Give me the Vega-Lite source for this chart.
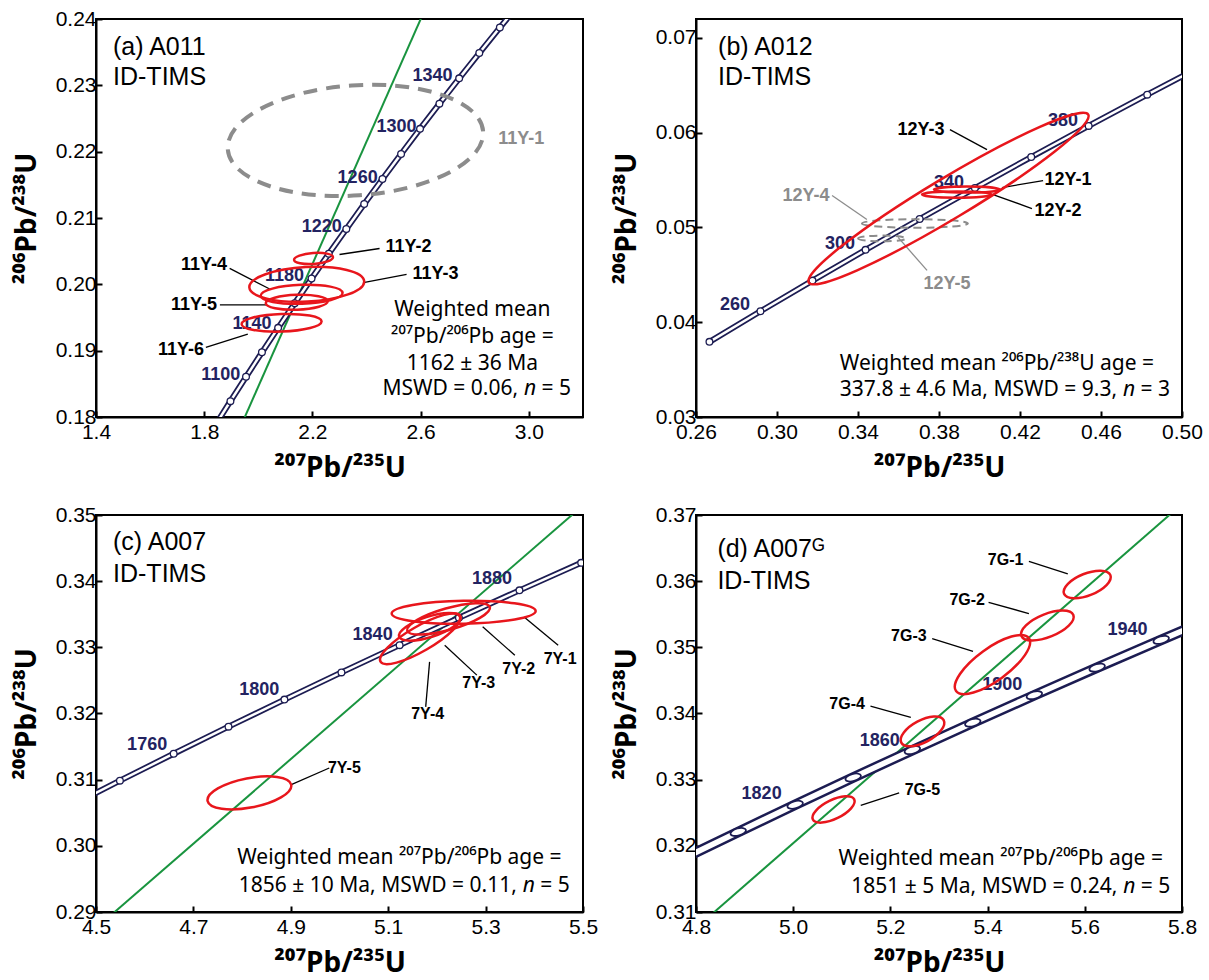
{
"$schema": "https://vega.github.io/schema/vega-lite/v6.json",
"padding": {"left": 12, "top": 7, "right": 5, "bottom": 5},
"config": {
 "view": {"stroke": "black", "strokeWidth": 2},
 "axis": {"domainColor": "black", "domainWidth": 2, "tickColor": "black", "tickWidth": 2, "tickSize": -6, "labelFont": "Liberation Sans", "labelFontSize": 21, "labelColor": "black", "titleFont": "Noto Sans", "titleFontSize": 28, "titleFontWeight": "bold", "titleColor": "black", "grid": false, "labelPadding": 6, "labelFlush": false, "labelOverlap": false},
 "axisX": {"minExtent": 27, "maxExtent": 27, "titlePadding": 10, "labelPadding": 10},
 "axisY": {"minExtent": 50, "maxExtent": 50, "titlePadding": 5},
 "text": {"font": "Liberation Sans"}
},
"datasets": {
 "conc_a": [{"age":1060,"x":1.8404,"y":0.17872},{"age":1080,"x":1.8969,"y":0.18239},{"age":1100,"x":1.9545,"y":0.18606},{"age":1120,"x":2.0133,"y":0.18975},{"age":1140,"x":2.0732,"y":0.19344},{"age":1160,"x":2.1344,"y":0.19715},{"age":1180,"x":2.1967,"y":0.20087},{"age":1200,"x":2.2603,"y":0.2046},{"age":1220,"x":2.3252,"y":0.20835},{"age":1240,"x":2.3913,"y":0.2121},{"age":1260,"x":2.4588,"y":0.21587},{"age":1280,"x":2.5276,"y":0.21965},{"age":1300,"x":2.5977,"y":0.22344},{"age":1320,"x":2.6693,"y":0.22724},{"age":1340,"x":2.7423,"y":0.23105},{"age":1360,"x":2.8167,"y":0.23487},{"age":1380,"x":2.8927,"y":0.23871},{"age":1400,"x":2.9701,"y":0.24256}],
 "conc_b": [{"age":240,"x":0.26664,"y":0.037932},{"age":260,"x":0.29183,"y":0.041157},{"age":280,"x":0.31752,"y":0.044392},{"age":300,"x":0.34373,"y":0.047638},{"age":320,"x":0.37046,"y":0.050893},{"age":340,"x":0.39773,"y":0.054158},{"age":360,"x":0.42554,"y":0.057434},{"age":380,"x":0.4539,"y":0.06072},{"age":400,"x":0.48283,"y":0.064016},{"age":420,"x":0.51233,"y":0.067322}],
 "conc_c": [{"age":1720,"x":4.4409,"y":0.3058},{"age":1740,"x":4.5491,"y":0.30985},{"age":1760,"x":4.6595,"y":0.31392},{"age":1780,"x":4.7721,"y":0.31801},{"age":1800,"x":4.8869,"y":0.3221},{"age":1820,"x":5.004,"y":0.32621},{"age":1840,"x":5.1234,"y":0.33033},{"age":1860,"x":5.2452,"y":0.33446},{"age":1880,"x":5.3695,"y":0.33861},{"age":1900,"x":5.4962,"y":0.34277},{"age":1920,"x":5.6254,"y":0.34694}],
 "conc_d": [{"age":1780,"x":4.7721,"y":0.31801},{"age":1800,"x":4.8869,"y":0.3221},{"age":1820,"x":5.004,"y":0.32621},{"age":1840,"x":5.1234,"y":0.33033},{"age":1860,"x":5.2452,"y":0.33446},{"age":1880,"x":5.3695,"y":0.33861},{"age":1900,"x":5.4962,"y":0.34277},{"age":1920,"x":5.6254,"y":0.34694},{"age":1940,"x":5.7572,"y":0.35113},{"age":1960,"x":5.8916,"y":0.35533}],
 "green_a": [{"x":1.9,"y":0.17537},{"x":2.7,"y":0.24921}],
 "green_c": [{"x":4.4,"y":0.28116},{"x":5.6,"y":0.35784}],
 "green_d": [{"x":4.8,"y":0.30758},{"x":5.9,"y":0.37807}],
 "ell_a": [{"id":"11Y-2","x":2.204,"y":0.2039,"major":19.5,"tilt":4},{"id":"11Y-3","x":2.179,"y":0.2,"major":57.5,"tilt":3},{"id":"11Y-4","x":2.16,"y":0.1985,"major":41,"tilt":2},{"id":"11Y-5","x":2.142,"y":0.1973,"major":31,"tilt":2},{"id":"11Y-6","x":2.086,"y":0.1942,"major":40,"tilt":2}],
 "ellg_a": [{"id":"11Y-1","x":2.359,"y":0.2217,"major":128,"tilt":4}],
 "ell_b": [{"id":"12Y-3","x":0.3847,"y":0.05305,"major":163,"tilt":31},{"id":"12Y-1","x":0.3938,"y":0.054,"major":33,"tilt":0},{"id":"12Y-2","x":0.3889,"y":0.05347,"major":35,"tilt":0}],
 "ellg_b": [{"id":"12Y-4","x":0.3681,"y":0.05042,"major":53,"tilt":0},{"id":"12Y-5","x":0.3519,"y":0.04884,"major":24,"tilt":0}],
 "ell_c": [{"id":"7Y-1","x":5.255,"y":0.3353,"major":72,"tilt":1},{"id":"7Y-2","x":5.224,"y":0.3343,"major":43,"tilt":16},{"id":"7Y-3","x":5.185,"y":0.3331,"major":32,"tilt":18},{"id":"7Y-4","x":5.166,"y":0.3313,"major":46,"tilt":30},{"id":"7Y-5","x":4.815,"y":0.308,"major":42.6,"tilt":11}],
 "ell_d": [{"id":"7G-1","x":5.605,"y":0.3595,"major":25,"tilt":22},{"id":"7G-2","x":5.523,"y":0.3533,"major":28,"tilt":22},{"id":"7G-3","x":5.41,"y":0.3474,"major":45,"tilt":36},{"id":"7G-4","x":5.266,"y":0.3373,"major":24,"tilt":28},{"id":"7G-5","x":5.083,"y":0.3255,"major":23,"tilt":26}],
 "lab_a": [{"t":"11Y-2","x":2.555,"y":0.2056},{"t":"11Y-3","x":2.655,"y":0.2015},{"t":"11Y-4","x":1.799,"y":0.2029},{"t":"11Y-5","x":1.762,"y":0.1969},{"t":"11Y-6","x":1.714,"y":0.1901}],
 "glab_a": [{"t":"11Y-1","x":2.972,"y":0.2219}],
 "lead_a": [{"x":2.3,"y":0.2045,"x2":2.448,"y2":0.2054},{"x":2.393,"y":0.2003,"x2":2.548,"y2":0.2015},{"x":1.894,"y":0.2024,"x2":2.042,"y2":0.1993},{"x":1.858,"y":0.1969,"x2":2.031,"y2":0.1969},{"x":1.806,"y":0.1905,"x2":1.961,"y2":0.1925}],
 "age_a": [{"t":"1100","x":1.861,"y":0.1863},{"t":"1140","x":1.977,"y":0.194},{"t":"1180","x":2.097,"y":0.2013},{"t":"1220","x":2.234,"y":0.2086},{"t":"1260","x":2.367,"y":0.2161},{"t":"1300","x":2.511,"y":0.2237},{"t":"1340","x":2.644,"y":0.2314}],
 "title_a": [{"t":"(a) A011","x":1.463,"y":0.2358},{"t":"ID-TIMS","x":1.463,"y":0.2313}],
 "notes_a": [{"t":"Weighted mean","x":2.791,"y":0.1961},{"t":"²⁰⁷Pb/²⁰⁶Pb age =","x":2.791,"y":0.192},{"t":"1162 ± 36 Ma","x":2.791,"y":0.188}],
 "tail_a": [{"pre":"MSWD = 0.06,","post":"= 5","x":3.156,"y":0.1842}],
 "lab_b": [{"t":"12Y-3","x":0.3711,"y":0.06032},{"t":"12Y-1","x":0.4437,"y":0.05505},{"t":"12Y-2","x":0.4388,"y":0.05179}],
 "glab_b": [{"t":"12Y-4","x":0.3143,"y":0.05337},{"t":"12Y-5","x":0.384,"y":0.044}],
 "lead_b": [{"x":0.3854,"y":0.06032,"x2":0.4037,"y2":0.05821},{"x":0.4111,"y":0.05421,"x2":0.4314,"y2":0.05495},{"x":0.4067,"y":0.05347,"x2":0.4259,"y2":0.052}],
 "gleader_b": [{"x":0.3272,"y":0.05337,"x2":0.3444,"y2":0.05084},{"x":0.3741,"y":0.04547,"x2":0.3598,"y2":0.04895}],
 "age_b": [{"t":"260","x":0.2793,"y":0.04179},{"t":"300","x":0.3311,"y":0.04821},{"t":"340","x":0.3849,"y":0.05474},{"t":"380","x":0.4412,"y":0.06126}],
 "title_b": [{"t":"(b) A012","x":0.2709,"y":0.06905},{"t":"ID-TIMS","x":0.2709,"y":0.06589}],
 "notes_b": [{"t":"Weighted mean ²⁰⁶Pb/²³⁸U age =","x":0.4086,"y":0.03558}],
 "tail_b": [{"pre":"337.8 ± 4.6 Ma, MSWD = 9.3,","post":"= 3","x":0.4941,"y":0.03284}],
 "lab_c": [{"t":"7Y-1","x":5.453,"y":0.3283},{"t":"7Y-2","x":5.368,"y":0.3268},{"t":"7Y-3","x":5.286,"y":0.3246},{"t":"7Y-4","x":5.181,"y":0.32},{"t":"7Y-5","x":5.01,"y":0.3118}],
 "lead_c": [{"x":5.379,"y":0.3346,"x2":5.449,"y2":0.3303},{"x":5.294,"y":0.3331,"x2":5.36,"y2":0.3288},{"x":5.216,"y":0.3303,"x2":5.282,"y2":0.3258},{"x":5.185,"y":0.3278,"x2":5.177,"y2":0.321},{"x":4.901,"y":0.30924,"x2":4.979,"y2":0.31176}],
 "age_c": [{"t":"1760","x":4.605,"y":0.3152},{"t":"1800","x":4.835,"y":0.3235},{"t":"1840","x":5.068,"y":0.3318},{"t":"1880","x":5.313,"y":0.3404}],
 "title_c": [{"t":"(c) A007","x":4.535,"y":0.3459},{"t":"ID-TIMS","x":4.535,"y":0.3411}],
 "notes_c": [{"t":"Weighted mean ²⁰⁷Pb/²⁰⁶Pb age =","x":5.123,"y":0.2982}],
 "tail_c": [{"pre":"1856 ± 10 Ma, MSWD = 0.11,","post":"= 5","x":5.473,"y":0.2939}],
 "lab_d": [{"t":"7G-1","x":5.437,"y":0.3632},{"t":"7G-2","x":5.358,"y":0.3571},{"t":"7G-3","x":5.238,"y":0.3517},{"t":"7G-4","x":5.111,"y":0.3414},{"t":"7G-5","x":5.266,"y":0.3285}],
 "lead_d": [{"x":5.485,"y":0.363,"x2":5.565,"y2":0.3611},{"x":5.402,"y":0.3568,"x2":5.485,"y2":0.3551},{"x":5.286,"y":0.3513,"x2":5.37,"y2":0.3494},{"x":5.159,"y":0.3411,"x2":5.242,"y2":0.3394},{"x":5.218,"y":0.328,"x2":5.139,"y2":0.3261}],
 "age_d": [{"t":"1820","x":4.935,"y":0.3278},{"t":"1860","x":5.178,"y":0.3359},{"t":"1900","x":5.43,"y":0.3443},{"t":"1940","x":5.688,"y":0.3526}],
 "title_d": [{"t":"(d) A007ᴳ","x":4.844,"y":0.3648},{"t":"ID-TIMS","x":4.844,"y":0.36}],
 "notes_d": [{"t":"Weighted mean ²⁰⁷Pb/²⁰⁶Pb age =","x":5.427,"y":0.318}],
 "tail_d": [{"pre":"1851 ± 5 Ma, MSWD = 0.24,","post":"= 5","x":5.776,"y":0.3138}]
},
"columns": 2,
"spacing": {"row": 20, "column": 13},
"concat": [
 {"width": 487, "height": 398, "layer": [
  {"data": {"name": "green_a"}, "mark": {"type": "line", "color": "#19943f", "strokeWidth": 2, "clip": true},
   "encoding": {"x": {"field": "x", "type": "quantitative", "scale": {"domain": [1.4, 3.2], "nice": false, "zero": false}, "axis": {"values": [1.4, 1.8, 2.2, 2.6, 3.0], "format": ".1f", "title": "²⁰⁷Pb/²³⁵U"}},
    "y": {"field": "y", "type": "quantitative", "scale": {"domain": [0.18, 0.24], "nice": false, "zero": false}, "axis": {"values": [0.18, 0.19, 0.2, 0.21, 0.22, 0.23, 0.24], "format": ".2f", "title": "²⁰⁶Pb/²³⁸U"}}}},
  {"data": {"name": "conc_a"}, "mark": {"type": "line", "color": "#1c1c52", "strokeWidth": 6, "clip": true}, "encoding": {"x": {"field": "x", "type": "quantitative"}, "y": {"field": "y", "type": "quantitative"}, "order": {"field": "age"}}},
  {"data": {"name": "conc_a"}, "mark": {"type": "line", "color": "white", "strokeWidth": 2.5, "clip": true}, "encoding": {"x": {"field": "x", "type": "quantitative"}, "y": {"field": "y", "type": "quantitative"}, "order": {"field": "age"}}},
  {"data": {"name": "conc_a"}, "mark": {"type": "point", "shape": "circle", "filled": true, "fill": "white", "stroke": "#1c1c52", "strokeWidth": 1.3, "size": 45, "opacity": 1, "clip": true}, "encoding": {"x": {"field": "x", "type": "quantitative"}, "y": {"field": "y", "type": "quantitative"}}},
  {"data": {"name": "age_a"}, "mark": {"type": "text", "fontWeight": "bold", "fontSize": 18, "color": "#232361"}, "encoding": {"x": {"field": "x", "type": "quantitative"}, "y": {"field": "y", "type": "quantitative"}, "text": {"field": "t"}}},
  {"data": {"name": "lead_a"}, "mark": {"type": "rule", "color": "black", "strokeWidth": 1.3}, "encoding": {"x": {"field": "x", "type": "quantitative"}, "y": {"field": "y", "type": "quantitative"}, "x2": {"field": "x2"}, "y2": {"field": "y2"}}},
  {"data": {"name": "lab_a"}, "mark": {"type": "text", "fontWeight": "bold", "fontSize": 18, "color": "black"}, "encoding": {"x": {"field": "x", "type": "quantitative"}, "y": {"field": "y", "type": "quantitative"}, "text": {"field": "t"}}},
  {"data": {"name": "glab_a"}, "mark": {"type": "text", "fontWeight": "bold", "fontSize": 18, "color": "#8c8c8c"}, "encoding": {"x": {"field": "x", "type": "quantitative"}, "y": {"field": "y", "type": "quantitative"}, "text": {"field": "t"}}},
  {"data": {"name": "ellg_a"}, "mark": {"type": "point", "filled": false, "stroke": "#8c8c8c", "strokeWidth": 4, "strokeDash": [14, 9], "opacity": 1, "clip": true},
   "encoding": {"x": {"field": "x", "type": "quantitative"}, "y": {"field": "y", "type": "quantitative"},
    "shape": {"field": "id", "type": "nominal", "legend": null, "scale": {"domain": ["11Y-1","11Y-2","11Y-3","11Y-4","11Y-5","11Y-6","12Y-1","12Y-2","12Y-3","12Y-4","12Y-5","7Y-1","7Y-2","7Y-3","7Y-4","7Y-5","7G-1","7G-2","7G-3","7G-4","7G-5"], "range": ["M-1,0A1,0.43,0,1,0,1,0A1,0.43,0,1,0,-1,0Z","M-1,0A1,0.28,0,1,0,1,0A1,0.28,0,1,0,-1,0Z","M-1,0A1,0.3,0,1,0,1,0A1,0.3,0,1,0,-1,0Z","M-1,0A1,0.23,0,1,0,1,0A1,0.23,0,1,0,-1,0Z","M-1,0A1,0.24,0,1,0,1,0A1,0.24,0,1,0,-1,0Z","M-1,0A1,0.22,0,1,0,1,0A1,0.22,0,1,0,-1,0Z","M-1,0A1,0.09,0,1,0,1,0A1,0.09,0,1,0,-1,0Z","M-1,0A1,0.091,0,1,0,1,0A1,0.091,0,1,0,-1,0Z","M-1,0A1,0.125,0,1,0,1,0A1,0.125,0,1,0,-1,0Z","M-1,0A1,0.08,0,1,0,1,0A1,0.08,0,1,0,-1,0Z","M-1,0A1,0.12,0,1,0,1,0A1,0.12,0,1,0,-1,0Z","M-1,0A1,0.16,0,1,0,1,0A1,0.16,0,1,0,-1,0Z","M-1,0A1,0.25,0,1,0,1,0A1,0.25,0,1,0,-1,0Z","M-1,0A1,0.32,0,1,0,1,0A1,0.32,0,1,0,-1,0Z","M-1,0A1,0.27,0,1,0,1,0A1,0.27,0,1,0,-1,0Z","M-1,0A1,0.345,0,1,0,1,0A1,0.345,0,1,0,-1,0Z","M-1,0A1,0.44,0,1,0,1,0A1,0.44,0,1,0,-1,0Z","M-1,0A1,0.41,0,1,0,1,0A1,0.41,0,1,0,-1,0Z","M-1,0A1,0.36,0,1,0,1,0A1,0.36,0,1,0,-1,0Z","M-1,0A1,0.46,0,1,0,1,0A1,0.46,0,1,0,-1,0Z","M-1,0A1,0.411,0,1,0,1,0A1,0.411,0,1,0,-1,0Z"]}},
    "size": {"field": "major", "type": "quantitative", "legend": null, "scale": {"type": "pow", "exponent": 2, "domain": [0, 200], "range": [0, 160000]}},
    "angle": {"field": "tilt", "type": "quantitative", "legend": null, "scale": {"domain": [0, 90], "range": [0, -90]}}}},
  {"data": {"name": "ell_a"}, "mark": {"type": "point", "filled": false, "stroke": "#e8161c", "strokeWidth": 2.5, "opacity": 1, "clip": true},
   "encoding": {"x": {"field": "x", "type": "quantitative"}, "y": {"field": "y", "type": "quantitative"},
    "shape": {"field": "id", "type": "nominal", "legend": null},
    "size": {"field": "major", "type": "quantitative", "legend": null},
    "angle": {"field": "tilt", "type": "quantitative", "legend": null}}},
  {"data": {"name": "title_a"}, "mark": {"type": "text", "fontSize": 25, "align": "left", "color": "black"}, "encoding": {"x": {"field": "x", "type": "quantitative"}, "y": {"field": "y", "type": "quantitative"}, "text": {"field": "t"}}},
  {"data": {"name": "notes_a"}, "mark": {"type": "text", "font": "Noto Sans", "fontSize": 21, "align": "center", "color": "black"}, "encoding": {"x": {"field": "x", "type": "quantitative"}, "y": {"field": "y", "type": "quantitative"}, "text": {"field": "t"}}},
  {"data": {"name": "tail_a"}, "mark": {"type": "text", "font": "Noto Sans", "fontSize": 21, "align": "right", "color": "black"}, "encoding": {"x": {"field": "x", "type": "quantitative"}, "y": {"field": "y", "type": "quantitative"}, "text": {"field": "post"}}},
  {"data": {"name": "tail_a"}, "mark": {"type": "text", "font": "Noto Sans", "fontSize": 21, "align": "right", "fontStyle": "italic", "dx": -35, "color": "black"}, "encoding": {"x": {"field": "x", "type": "quantitative"}, "y": {"field": "y", "type": "quantitative"}, "text": {"value": "n"}}},
  {"data": {"name": "tail_a"}, "mark": {"type": "text", "font": "Noto Sans", "fontSize": 21, "align": "right", "dx": -53, "color": "black"}, "encoding": {"x": {"field": "x", "type": "quantitative"}, "y": {"field": "y", "type": "quantitative"}, "text": {"field": "pre"}}}
 ]},
 {"width": 486, "height": 398, "layer": [
  {"data": {"name": "conc_b"}, "mark": {"type": "line", "color": "#1c1c52", "strokeWidth": 6, "clip": true},
   "encoding": {"x": {"field": "x", "type": "quantitative", "scale": {"domain": [0.26, 0.5], "nice": false, "zero": false}, "axis": {"values": [0.26, 0.3, 0.34, 0.38, 0.42, 0.46, 0.5], "format": ".2f", "title": "²⁰⁷Pb/²³⁵U"}},
    "y": {"field": "y", "type": "quantitative", "scale": {"domain": [0.03, 0.072], "nice": false, "zero": false}, "axis": {"values": [0.03, 0.04, 0.05, 0.06, 0.07], "format": ".2f", "title": "²⁰⁶Pb/²³⁸U"}}, "order": {"field": "age"}}},
  {"data": {"name": "conc_b"}, "mark": {"type": "line", "color": "white", "strokeWidth": 2.5, "clip": true}, "encoding": {"x": {"field": "x", "type": "quantitative"}, "y": {"field": "y", "type": "quantitative"}, "order": {"field": "age"}}},
  {"data": {"name": "conc_b"}, "mark": {"type": "point", "shape": "circle", "filled": true, "fill": "white", "stroke": "#1c1c52", "strokeWidth": 1.3, "size": 45, "opacity": 1, "clip": true}, "encoding": {"x": {"field": "x", "type": "quantitative"}, "y": {"field": "y", "type": "quantitative"}}},
  {"data": {"name": "age_b"}, "mark": {"type": "text", "fontWeight": "bold", "fontSize": 18, "color": "#232361"}, "encoding": {"x": {"field": "x", "type": "quantitative"}, "y": {"field": "y", "type": "quantitative"}, "text": {"field": "t"}}},
  {"data": {"name": "lead_b"}, "mark": {"type": "rule", "color": "black", "strokeWidth": 1.3}, "encoding": {"x": {"field": "x", "type": "quantitative"}, "y": {"field": "y", "type": "quantitative"}, "x2": {"field": "x2"}, "y2": {"field": "y2"}}},
  {"data": {"name": "gleader_b"}, "mark": {"type": "rule", "color": "#8c8c8c", "strokeWidth": 1.3}, "encoding": {"x": {"field": "x", "type": "quantitative"}, "y": {"field": "y", "type": "quantitative"}, "x2": {"field": "x2"}, "y2": {"field": "y2"}}},
  {"data": {"name": "lab_b"}, "mark": {"type": "text", "fontWeight": "bold", "fontSize": 18, "color": "black"}, "encoding": {"x": {"field": "x", "type": "quantitative"}, "y": {"field": "y", "type": "quantitative"}, "text": {"field": "t"}}},
  {"data": {"name": "glab_b"}, "mark": {"type": "text", "fontWeight": "bold", "fontSize": 18, "color": "#8c8c8c"}, "encoding": {"x": {"field": "x", "type": "quantitative"}, "y": {"field": "y", "type": "quantitative"}, "text": {"field": "t"}}},
  {"data": {"name": "ellg_b"}, "mark": {"type": "point", "filled": false, "stroke": "#8c8c8c", "strokeWidth": 2, "strokeDash": [8, 5], "opacity": 1, "clip": true},
   "encoding": {"x": {"field": "x", "type": "quantitative"}, "y": {"field": "y", "type": "quantitative"}, "shape": {"field": "id", "type": "nominal", "legend": null}, "size": {"field": "major", "type": "quantitative", "legend": null}, "angle": {"field": "tilt", "type": "quantitative", "legend": null}}},
  {"data": {"name": "ell_b"}, "mark": {"type": "point", "filled": false, "stroke": "#e8161c", "strokeWidth": 2.5, "opacity": 1, "clip": true},
   "encoding": {"x": {"field": "x", "type": "quantitative"}, "y": {"field": "y", "type": "quantitative"}, "shape": {"field": "id", "type": "nominal", "legend": null}, "size": {"field": "major", "type": "quantitative", "legend": null}, "angle": {"field": "tilt", "type": "quantitative", "legend": null}}},
  {"data": {"name": "title_b"}, "mark": {"type": "text", "fontSize": 25, "align": "left", "color": "black"}, "encoding": {"x": {"field": "x", "type": "quantitative"}, "y": {"field": "y", "type": "quantitative"}, "text": {"field": "t"}}},
  {"data": {"name": "notes_b"}, "mark": {"type": "text", "font": "Noto Sans", "fontSize": 21, "align": "center", "color": "black"}, "encoding": {"x": {"field": "x", "type": "quantitative"}, "y": {"field": "y", "type": "quantitative"}, "text": {"field": "t"}}},
  {"data": {"name": "tail_b"}, "mark": {"type": "text", "font": "Noto Sans", "fontSize": 21, "align": "right", "color": "black"}, "encoding": {"x": {"field": "x", "type": "quantitative"}, "y": {"field": "y", "type": "quantitative"}, "text": {"field": "post"}}},
  {"data": {"name": "tail_b"}, "mark": {"type": "text", "font": "Noto Sans", "fontSize": 21, "align": "right", "fontStyle": "italic", "dx": -35, "color": "black"}, "encoding": {"x": {"field": "x", "type": "quantitative"}, "y": {"field": "y", "type": "quantitative"}, "text": {"value": "n"}}},
  {"data": {"name": "tail_b"}, "mark": {"type": "text", "font": "Noto Sans", "fontSize": 21, "align": "right", "dx": -53, "color": "black"}, "encoding": {"x": {"field": "x", "type": "quantitative"}, "y": {"field": "y", "type": "quantitative"}, "text": {"field": "pre"}}}
 ]},
 {"width": 487, "height": 397, "layer": [
  {"data": {"name": "green_c"}, "mark": {"type": "line", "color": "#19943f", "strokeWidth": 2, "clip": true},
   "encoding": {"x": {"field": "x", "type": "quantitative", "scale": {"domain": [4.5, 5.5], "nice": false, "zero": false}, "axis": {"values": [4.5, 4.7, 4.9, 5.1, 5.3, 5.5], "format": ".1f", "title": "²⁰⁷Pb/²³⁵U"}},
    "y": {"field": "y", "type": "quantitative", "scale": {"domain": [0.29, 0.35], "nice": false, "zero": false}, "axis": {"values": [0.29, 0.3, 0.31, 0.32, 0.33, 0.34, 0.35], "format": ".2f", "title": "²⁰⁶Pb/²³⁸U"}}}},
  {"data": {"name": "conc_c"}, "mark": {"type": "line", "color": "#1c1c52", "strokeWidth": 6, "clip": true}, "encoding": {"x": {"field": "x", "type": "quantitative"}, "y": {"field": "y", "type": "quantitative"}, "order": {"field": "age"}}},
  {"data": {"name": "conc_c"}, "mark": {"type": "line", "color": "white", "strokeWidth": 2.5, "clip": true}, "encoding": {"x": {"field": "x", "type": "quantitative"}, "y": {"field": "y", "type": "quantitative"}, "order": {"field": "age"}}},
  {"data": {"name": "conc_c"}, "mark": {"type": "point", "shape": "circle", "filled": true, "fill": "white", "stroke": "#1c1c52", "strokeWidth": 1.3, "size": 45, "opacity": 1, "clip": true}, "encoding": {"x": {"field": "x", "type": "quantitative"}, "y": {"field": "y", "type": "quantitative"}}},
  {"data": {"name": "age_c"}, "mark": {"type": "text", "fontWeight": "bold", "fontSize": 18, "color": "#232361"}, "encoding": {"x": {"field": "x", "type": "quantitative"}, "y": {"field": "y", "type": "quantitative"}, "text": {"field": "t"}}},
  {"data": {"name": "lead_c"}, "mark": {"type": "rule", "color": "black", "strokeWidth": 1.3}, "encoding": {"x": {"field": "x", "type": "quantitative"}, "y": {"field": "y", "type": "quantitative"}, "x2": {"field": "x2"}, "y2": {"field": "y2"}}},
  {"data": {"name": "lab_c"}, "mark": {"type": "text", "fontWeight": "bold", "fontSize": 16, "color": "black"}, "encoding": {"x": {"field": "x", "type": "quantitative"}, "y": {"field": "y", "type": "quantitative"}, "text": {"field": "t"}}},
  {"data": {"name": "ell_c"}, "mark": {"type": "point", "filled": false, "stroke": "#e8161c", "strokeWidth": 2.5, "opacity": 1, "clip": true},
   "encoding": {"x": {"field": "x", "type": "quantitative"}, "y": {"field": "y", "type": "quantitative"}, "shape": {"field": "id", "type": "nominal", "legend": null}, "size": {"field": "major", "type": "quantitative", "legend": null}, "angle": {"field": "tilt", "type": "quantitative", "legend": null}}},
  {"data": {"name": "title_c"}, "mark": {"type": "text", "fontSize": 25, "align": "left", "color": "black"}, "encoding": {"x": {"field": "x", "type": "quantitative"}, "y": {"field": "y", "type": "quantitative"}, "text": {"field": "t"}}},
  {"data": {"name": "notes_c"}, "mark": {"type": "text", "font": "Noto Sans", "fontSize": 21, "align": "center", "color": "black"}, "encoding": {"x": {"field": "x", "type": "quantitative"}, "y": {"field": "y", "type": "quantitative"}, "text": {"field": "t"}}},
  {"data": {"name": "tail_c"}, "mark": {"type": "text", "font": "Noto Sans", "fontSize": 21, "align": "right", "color": "black"}, "encoding": {"x": {"field": "x", "type": "quantitative"}, "y": {"field": "y", "type": "quantitative"}, "text": {"field": "post"}}},
  {"data": {"name": "tail_c"}, "mark": {"type": "text", "font": "Noto Sans", "fontSize": 21, "align": "right", "fontStyle": "italic", "dx": -35, "color": "black"}, "encoding": {"x": {"field": "x", "type": "quantitative"}, "y": {"field": "y", "type": "quantitative"}, "text": {"value": "n"}}},
  {"data": {"name": "tail_c"}, "mark": {"type": "text", "font": "Noto Sans", "fontSize": 21, "align": "right", "dx": -53, "color": "black"}, "encoding": {"x": {"field": "x", "type": "quantitative"}, "y": {"field": "y", "type": "quantitative"}, "text": {"field": "pre"}}}
 ]},
 {"width": 486, "height": 397, "layer": [
  {"data": {"name": "green_d"}, "mark": {"type": "line", "color": "#19943f", "strokeWidth": 2, "clip": true},
   "encoding": {"x": {"field": "x", "type": "quantitative", "scale": {"domain": [4.8, 5.8], "nice": false, "zero": false}, "axis": {"values": [4.8, 5.0, 5.2, 5.4, 5.6, 5.8], "format": ".1f", "title": "²⁰⁷Pb/²³⁵U"}},
    "y": {"field": "y", "type": "quantitative", "scale": {"domain": [0.31, 0.37], "nice": false, "zero": false}, "axis": {"values": [0.31, 0.32, 0.33, 0.34, 0.35, 0.36, 0.37], "format": ".2f", "title": "²⁰⁶Pb/²³⁸U"}}}},
  {"data": {"name": "conc_d"}, "mark": {"type": "line", "color": "#1c1c52", "strokeWidth": 10.5, "clip": true}, "encoding": {"x": {"field": "x", "type": "quantitative"}, "y": {"field": "y", "type": "quantitative"}, "order": {"field": "age"}}},
  {"data": {"name": "conc_d"}, "mark": {"type": "line", "color": "white", "strokeWidth": 5.5, "clip": true}, "encoding": {"x": {"field": "x", "type": "quantitative"}, "y": {"field": "y", "type": "quantitative"}, "order": {"field": "age"}}},
  {"data": {"name": "conc_d"}, "mark": {"type": "point", "shape": "M-1,0A1,0.45,0,1,0,1,0A1,0.45,0,1,0,-1,0Z", "filled": true, "fill": "white", "stroke": "#1c1c52", "strokeWidth": 1.8, "size": 256, "angle": 345, "opacity": 1, "clip": true}, "encoding": {"x": {"field": "x", "type": "quantitative"}, "y": {"field": "y", "type": "quantitative"}}},
  {"data": {"name": "age_d"}, "mark": {"type": "text", "fontWeight": "bold", "fontSize": 18, "color": "#232361"}, "encoding": {"x": {"field": "x", "type": "quantitative"}, "y": {"field": "y", "type": "quantitative"}, "text": {"field": "t"}}},
  {"data": {"name": "lead_d"}, "mark": {"type": "rule", "color": "black", "strokeWidth": 1.3}, "encoding": {"x": {"field": "x", "type": "quantitative"}, "y": {"field": "y", "type": "quantitative"}, "x2": {"field": "x2"}, "y2": {"field": "y2"}}},
  {"data": {"name": "lab_d"}, "mark": {"type": "text", "fontWeight": "bold", "fontSize": 16, "color": "black"}, "encoding": {"x": {"field": "x", "type": "quantitative"}, "y": {"field": "y", "type": "quantitative"}, "text": {"field": "t"}}},
  {"data": {"name": "ell_d"}, "mark": {"type": "point", "filled": false, "stroke": "#e8161c", "strokeWidth": 2.5, "opacity": 1, "clip": true},
   "encoding": {"x": {"field": "x", "type": "quantitative"}, "y": {"field": "y", "type": "quantitative"}, "shape": {"field": "id", "type": "nominal", "legend": null}, "size": {"field": "major", "type": "quantitative", "legend": null}, "angle": {"field": "tilt", "type": "quantitative", "legend": null}}},
  {"data": {"name": "title_d"}, "mark": {"type": "text", "fontSize": 25, "align": "left", "color": "black"}, "encoding": {"x": {"field": "x", "type": "quantitative"}, "y": {"field": "y", "type": "quantitative"}, "text": {"field": "t"}}},
  {"data": {"name": "notes_d"}, "mark": {"type": "text", "font": "Noto Sans", "fontSize": 21, "align": "center", "color": "black"}, "encoding": {"x": {"field": "x", "type": "quantitative"}, "y": {"field": "y", "type": "quantitative"}, "text": {"field": "t"}}},
  {"data": {"name": "tail_d"}, "mark": {"type": "text", "font": "Noto Sans", "fontSize": 21, "align": "right", "color": "black"}, "encoding": {"x": {"field": "x", "type": "quantitative"}, "y": {"field": "y", "type": "quantitative"}, "text": {"field": "post"}}},
  {"data": {"name": "tail_d"}, "mark": {"type": "text", "font": "Noto Sans", "fontSize": 21, "align": "right", "fontStyle": "italic", "dx": -35, "color": "black"}, "encoding": {"x": {"field": "x", "type": "quantitative"}, "y": {"field": "y", "type": "quantitative"}, "text": {"value": "n"}}},
  {"data": {"name": "tail_d"}, "mark": {"type": "text", "font": "Noto Sans", "fontSize": 21, "align": "right", "dx": -53, "color": "black"}, "encoding": {"x": {"field": "x", "type": "quantitative"}, "y": {"field": "y", "type": "quantitative"}, "text": {"field": "pre"}}}
 ]}
]
}
